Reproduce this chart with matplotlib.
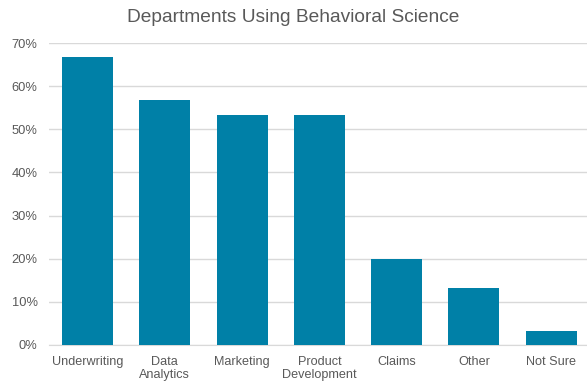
import matplotlib.pyplot as plt
from matplotlib.ticker import PercentFormatter

plt.rcParams['font.family'] = ['Liberation Sans', 'DejaVu Sans']

categories = ['Underwriting', 'Data\nAnalytics', 'Marketing', 'Product\nDevelopment',
              'Claims', 'Other', 'Not Sure']
values = [66.7, 56.7, 53.3, 53.3, 20.0, 13.3, 3.3]
yticks = [0, 10, 20, 30, 40, 50, 60, 70]

fig = plt.figure(figsize=(5.87, 3.81), dpi=100)
ax = fig.add_axes([0.0832, 0.0945, 0.9217, 0.7925])

ax.bar(range(len(categories)), values, width=0.66, color='#0080a7', zorder=3)

ax.set_xlim(-0.5, len(categories) - 0.5)
ax.set_ylim(0, 70)
ax.set_yticks(yticks)
ax.yaxis.set_major_formatter(PercentFormatter(decimals=0))
ax.set_xticks(range(len(categories)))
ax.set_xticklabels(categories, fontsize=9.1, color='#595959', linespacing=1.15)
ax.tick_params(axis='y', labelsize=9.3, labelcolor='#595959', length=0, pad=8)
ax.tick_params(axis='x', length=0, pad=8)

ax.grid(axis='y', color='#d9d9d9', linewidth=1, zorder=0)
for s in ['top', 'right', 'left']:
    ax.spines[s].set_visible(False)
ax.spines['bottom'].set_color('#d9d9d9')

fig.text(0.5, 0.953, 'Departments Using Behavioral Science', ha='center', va='center',
         fontsize=13.8, color='#595959')

fig.savefig('out.png', dpi=100)
